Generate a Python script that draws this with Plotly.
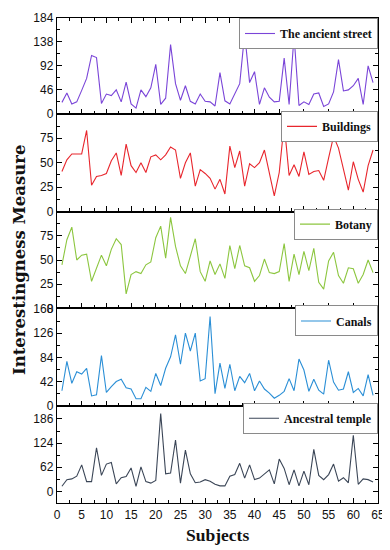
import plotly.graph_objects as go

subjects = list(range(1, 65))

ancient_street = [22, 40, 19, 23, 45, 68, 112, 108, 20, 38, 35, 46, 23, 61, 19, 11,
                  46, 33, 50, 95, 18, 30, 133, 58, 26, 54, 24, 19, 38, 24, 23, 15,
                  79, 25, 19, 37, 58, 154, 60, 81, 18, 50, 32, 23, 24, 107, 18, 150,
                  16, 23, 18, 38, 40, 14, 19, 42, 104, 44, 46, 54, 68, 18, 92, 60]

buildings = [41, 53, 59, 59, 59, 83, 27, 36, 37, 39, 52, 60, 37, 69, 47, 40,
             50, 40, 56, 58, 53, 58, 66, 63, 34, 50, 60, 26, 43, 39, 34, 23,
             33, 18, 67, 45, 62, 26, 49, 45, 50, 63, 39, 16, 40, 90, 37, 48,
             36, 61, 38, 41, 42, 32, 55, 77, 65, 43, 22, 51, 33, 20, 47, 63]

botany = [45, 71, 84, 50, 55, 56, 28, 42, 55, 44, 61, 72, 66, 15, 35, 38,
          36, 45, 48, 73, 85, 52, 94, 64, 44, 36, 55, 72, 38, 28, 49, 35,
          46, 31, 65, 41, 65, 44, 42, 28, 34, 51, 37, 36, 38, 67, 28, 56,
          35, 59, 39, 62, 27, 20, 49, 58, 34, 26, 42, 41, 26, 35, 50, 37]

canals = [26, 77, 39, 59, 55, 65, 17, 19, 87, 23, 33, 42, 46, 31, 29, 12,
          12, 32, 25, 56, 35, 65, 85, 123, 72, 126, 95, 126, 43, 47, 155, 21,
          74, 30, 72, 26, 51, 40, 56, 26, 43, 29, 22, 13, 18, 25, 47, 26,
          81, 62, 25, 46, 27, 20, 79, 41, 27, 29, 59, 23, 30, 17, 54, 18]

ancestral_temple = [13, 30, 32, 39, 68, 25, 25, 112, 41, 70, 74, 19, 35, 38, 60, 13,
                    63, 25, 21, 28, 200, 45, 47, 132, 21, 106, 45, 22, 24, 30, 26, 18,
                    14, 14, 39, 43, 72, 34, 68, 30, 34, 45, 55, 19, 83, 59, 17, 55,
                    14, 52, 17, 108, 41, 30, 43, 70, 26, 35, 22, 144, 18, 32, 30, 24]

names = ["The ancient street", "Buildings", "Botany", "Canals", "Ancestral temple"]
values = [ancient_street, buildings, botany, canals, ancestral_temple]
colors = ["#7a45d8", "#e8262d", "#8cc63f", "#2b8fd6", "#3b4657"]

y_ranges = [[0, 184], [0, 100], [0, 100], [0, 169], [-30, 220]]
y_ticks = [[0, 46, 92, 138, 184], [0, 25, 50, 75], [0, 25, 50, 75],
           [0, 42, 84, 126, 168], [0, 62, 124, 186]]
y_minor = [23, 12.5, 12.5, 21, 31]

x_ticks = list(range(0, 66, 5))

# panel boundaries in paper coords (top to bottom)
bounds = [1.0, 0.8024, 0.6008, 0.4012, 0.2006, 0.0]
plot_h = 491.0

fig = go.Figure()
tick_font = dict(family="Liberation Sans, Arial, sans-serif", size=12, color="#111")
legend_font = dict(family="Liberation Serif, Times New Roman, serif", size=12, color="#111")

for i in range(5):
    sfx = "" if i == 0 else str(i + 1)
    fig.add_trace(go.Scatter(
        x=subjects, y=values[i], mode="lines",
        name="<b>" + names[i] + "</b>",
        line=dict(color=colors[i], width=1.1),
        xaxis="x" + sfx, yaxis="y" + sfx, legend="legend" + sfx,
        showlegend=True,
    ))
    dom = [bounds[i + 1], bounds[i]]
    fig.layout["xaxis" + sfx] = dict(
        domain=[0, 1], anchor="y" + sfx, range=[0, 65],
        tickvals=x_ticks, showticklabels=(i == 4),
        ticks="inside", ticklen=5, tickwidth=1.2, tickcolor="black",
        minor=dict(dtick=2.5, tick0=0, ticks="inside", ticklen=3, tickcolor="black", tickwidth=1),
        showline=True, linecolor="black", linewidth=1.4,
        mirror=("ticks" if i == 0 else True),
        showgrid=False, zeroline=False, tickfont=tick_font,
    )
    fig.layout["yaxis" + sfx] = dict(
        domain=dom, anchor="x" + sfx, range=y_ranges[i],
        tickvals=y_ticks[i],
        ticks="inside", ticklen=5, tickwidth=1.2, tickcolor="black",
        minor=dict(dtick=y_minor[i], tick0=0, ticks="inside", ticklen=3, tickcolor="black", tickwidth=1),
        showline=True, linecolor="black", linewidth=1.4, mirror="ticks",
        showgrid=False, zeroline=False, tickfont=tick_font,
    )
    ly = bounds[i] if i == 0 else bounds[i] + 3 / plot_h
    fig.layout["legend" + sfx] = dict(
        x=1, xanchor="right", y=ly, yanchor="top",
        bordercolor="#8a8a8a", borderwidth=1, bgcolor="white",
        font=legend_font, itemwidth=30,
        tracegroupgap=0,
    )

fig.add_annotation(
    text="<b>Interestingness Measure</b>", xref="paper", yref="paper",
    x=-0.1526, y=0.5, textangle=-90, showarrow=False,
    font=dict(family="DejaVu Serif, serif", size=16.5, color="#111"),
    xanchor="left", yanchor="middle",
)
fig.add_annotation(
    text="<b>Subjects</b>", xref="paper", yref="paper",
    x=0.5, y=-0.065, showarrow=False,
    font=dict(family="Liberation Serif, Times New Roman, serif", size=17.5, color="#111"),
    xanchor="center", yanchor="middle",
)

fig.update_layout(
    width=382, height=542,
    margin=dict(l=49, r=12, t=4, b=47),
    plot_bgcolor="white", paper_bgcolor="white",
)

fig.write_html("out.html")
